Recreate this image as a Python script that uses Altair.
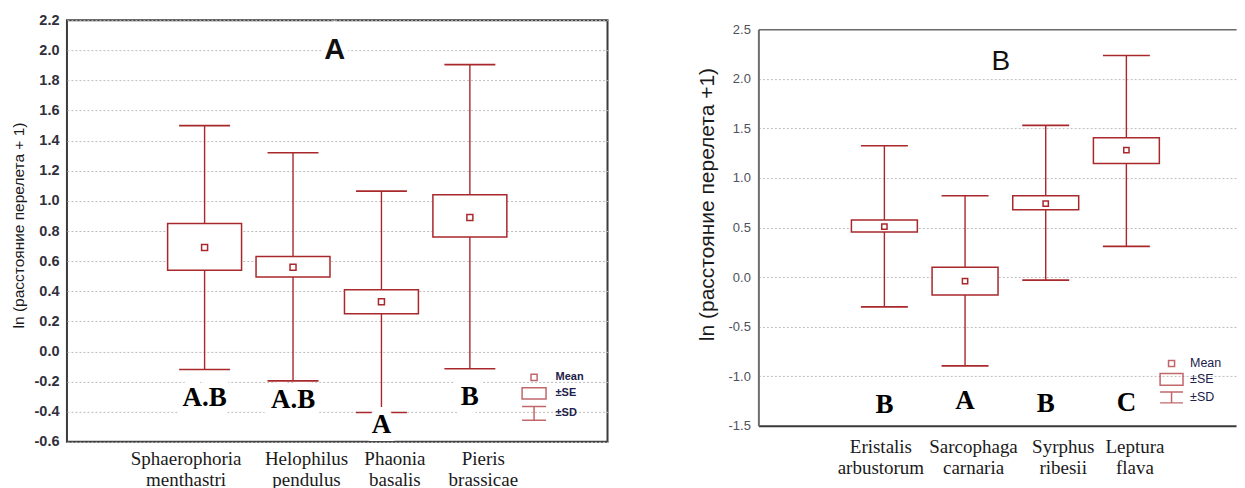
import altair as alt
import pandas as pd

RED = "#a8282c"

# ---------------- Panel A (left) ----------------
a_names = [["Sphaerophoria", "menthastri"], ["Helophilus", "pendulus"],
           ["Phaonia", "basalis"], ["Pieris", "brassicae"]]
a_pos = [2, 3, 4, 5]
a_mean = [0.69, 0.56, 0.33, 0.89]
a_se_lo = [0.54, 0.495, 0.25, 0.76]
a_se_hi = [0.85, 0.63, 0.41, 1.04]
a_sd_lo = [-0.12, -0.195, -0.405, -0.115]
a_sd_hi = [1.50, 1.32, 1.065, 1.905]
a_letters = ["A.B", "A.B", "A", "B"]
a_letter_y = [-0.31, -0.32, -0.49, -0.30]
a_yticks = [-0.6, -0.4, -0.2, 0.0, 0.2, 0.4, 0.6, 0.8, 1.0, 1.2, 1.4, 1.6, 1.8, 2.0, 2.2]
a_tag = ["A"]
a_tag_x = [3.47]
a_tag_y = [2.0]

# ---------------- Panel B (right) ----------------
b_names = [["Eristalis", "arbustorum"], ["Sarcophaga", "carnaria"],
           ["Syrphus", "ribesii"], ["Leptura", "flava"]]
b_pos = [2, 3, 4, 5]
b_mean = [0.51, -0.04, 0.74, 1.28]
b_se_lo = [0.455, -0.18, 0.68, 1.145]
b_se_hi = [0.575, 0.10, 0.82, 1.405]
b_sd_lo = [-0.30, -0.895, -0.03, 0.31]
b_sd_hi = [1.325, 0.82, 1.53, 2.235]
b_letters = ["B", "A", "B", "C"]
b_letter_y = [-1.29, -1.25, -1.28, -1.27]
b_yticks = [-1.5, -1.0, -0.5, 0.0, 0.5, 1.0, 1.5, 2.0, 2.5]
b_tag = ["B"]
b_tag_x = [3.445]
b_tag_y = [2.17]

x_ticks = [1, 2, 3, 4, 5, 6]
legend_items = ["Mean", "±SE", "±SD"]


def label_expr(pos, names):
    parts = [f"datum.value == {p} ? ['{a}', '{b}']" for p, (a, b) in zip(pos, names)]
    return " : ".join(parts) + " : ''"


def legend_paths(box_w, box_h, sd_w, sd_h, m):
    return [
        f"M{-m},{-m}H{m}V{m}H{-m}Z",
        f"M{-box_w},{-box_h}H{box_w}V{box_h}H{-box_w}Z",
        f"M{-sd_w},{-sd_h}H{sd_w}M0,{-sd_h}V{sd_h}M{-sd_w},{sd_h}H{sd_w}",
    ]


def panel(pos, names, mean, se_lo, se_hi, sd_lo, sd_hi, letters, letter_y,
          tag, tag_x, tag_y, yticks, ydom, xmax, width, height, st):
    df = pd.DataFrame({"pos": pos, "mean": mean, "se_lo": se_lo, "se_hi": se_hi,
                       "sd_lo": sd_lo, "sd_hi": sd_hi, "letter": letters, "ly": letter_y})
    tag_df = pd.DataFrame({"pos": tag_x, "ty": tag_y, "tag": tag})
    leg_df = pd.DataFrame({"item": legend_items, "pos": [100] * 3, "val": [0.0] * 3})

    xscale = alt.Scale(domain=[0.5, xmax], nice=False, zero=False)
    yscale = alt.Scale(domain=ydom, nice=False, zero=False)
    xaxis = alt.Axis(values=x_ticks, labelExpr=label_expr(pos, names), title=None,
                     grid=False, ticks=False, domain=st["xdomain"],
                     domainColor="#3a3a3a", domainWidth=2,
                     labelFont="Liberation Serif", labelFontSize=19, labelLineHeight=21,
                     labelColor="#1a1a1a", labelPadding=st["xpad"], labelOverlap=False,
                     labelFlush=False, labelBound=False, labelOffset=st["xoff"])
    yaxis = alt.Axis(values=yticks, title=st["ytitle"],
                     labelExpr="replace(format(datum.value, '.1f'), '\u2212', '-')",
                     grid=True, gridColor="#bcbcbc", gridDash=[2, 2], gridWidth=1,
                     ticks=False, domain=st["ydomain"], domainColor="#6e6e6e", domainWidth=2,
                     labelFont="Liberation Sans", labelFontSize=st["ylabsize"],
                     labelFontWeight=st["ylabweight"], labelColor=st["ylabcolor"],
                     labelPadding=st["ylabpad"], minExtent=st["ext"], maxExtent=st["ext"],
                     titleFont="Liberation Sans", titleFontSize=st["ytitlesize"],
                     titleFontWeight="normal", titleColor="#1a1a1a",
                     titlePadding=st["ytitlepad"], titleY=st["titley"])
    X = alt.X("pos:Q", scale=xscale, axis=xaxis)

    def Y(field):
        return alt.Y(f"{field}:Q", scale=yscale, axis=yaxis)

    base = alt.Chart(df)
    whisk = base.mark_rule(color=RED, strokeWidth=1.4).encode(x=X, y=Y("sd_lo"), y2="sd_hi")
    box = base.mark_bar(size=st["box_w"], fill="white", stroke=RED, strokeWidth=1.5,
                        orient="vertical").encode(x=X, y=Y("se_lo"), y2="se_hi")
    mean_pt = base.mark_point(shape="square", size=st["mean_size"], filled=False,
                              color=RED, strokeWidth=1.5, opacity=1).encode(x=X, y=Y("mean"))
    cap_lo = base.mark_tick(orient="horizontal", size=st["cap_w"], thickness=1.6,
                            color=RED, opacity=1).encode(x=X, y=Y("sd_lo"))
    cap_hi = base.mark_tick(orient="horizontal", size=st["cap_w"], thickness=1.6,
                            color=RED, opacity=1).encode(x=X, y=Y("sd_hi"))
    let_kw = dict(font="Liberation Serif", fontWeight="bold", fontSize=27,
                  align="center", baseline="middle")
    halo = base.mark_text(color="white", stroke="white", strokeWidth=16,
                          strokeJoin="round", **let_kw).encode(
        x=X, y=Y("ly"), text="letter:N")
    lets = base.mark_text(color="black", **let_kw).encode(x=X, y=Y("ly"), text="letter:N")

    tbase = alt.Chart(tag_df)
    tag_kw = dict(font="Liberation Sans", fontWeight=st["tagweight"], fontSize=st["tagsize"],
                  align="center", baseline="middle")
    tag_halo = tbase.mark_text(color="white", stroke="white", strokeWidth=12, **tag_kw).encode(
        x=X, y=Y("ty"), text="tag:N")
    tag_txt = tbase.mark_text(color="#111111", **tag_kw).encode(x=X, y=Y("ty"), text="tag:N")

    leg_x = alt.X("pos:Q", scale=xscale, axis=xaxis)
    if st["top_axis"]:
        leg_x = alt.X("pos:Q", scale=xscale,
                      axis=alt.Axis(orient="top", labels=False, ticks=False, grid=False,
                                    title=None, domain=True, domainColor="#6a6a6a",
                                    domainWidth=1.5))
    legend_layer = alt.Chart(leg_df).mark_point(filled=False, color=RED, strokeWidth=1.5,
                                                clip=True).encode(
        x=leg_x, y=Y("val"),
        shape=alt.Shape("item:N",
                        scale=alt.Scale(domain=legend_items, range=st["paths"]),
                        legend=alt.Legend(title=None, orient="none",
                                          legendX=st["legx"], legendY=st["legy"],
                                          symbolSize=st["symsize"], symbolStrokeWidth=1.5,
                                          symbolStrokeColor=RED,
                                          labelFont="Liberation Sans",
                                          labelFontSize=st["legfs"],
                                          labelFontWeight=st["legweight"],
                                          labelColor="#20204a", labelOffset=st["legoff"],
                                          rowPadding=0, padding=0)))

    main = alt.layer(whisk, box, mean_pt, cap_lo, cap_hi, halo, lets, tag_halo, tag_txt)
    if st["top_axis"]:
        ch = alt.layer(main, legend_layer).resolve_axis(x="independent")
    else:
        ch = alt.layer(main, legend_layer)
    return ch.properties(width=width, height=height, view=st["view"])


left = panel(a_pos, a_names, a_mean, a_se_lo, a_se_hi, a_sd_lo, a_sd_hi, a_letters,
             a_letter_y, a_tag, a_tag_x, a_tag_y, a_yticks, [-0.6, 2.2], 6.5, 541, 422,
             dict(xdomain=False, ydomain=False, xpad=8,
                  xoff={"condition": [{"test": "datum.value == 2", "value": -19}], "value": 13},
                  ytitle="ln (расстояние перелета + 1)", ylabsize=14.5, ylabweight="bold",
                  ylabcolor="#30303c", ylabpad=8, ext=36, ytitlesize=15.5, ytitlepad=4,
                  titley=205,
                  box_w=74, cap_w=51, mean_size=36, tagweight="bold", tagsize=29,
                  top_axis=False, paths=legend_paths(1.41, 0.65, 1.41, 0.82, 0.36),
                  legx=458, legy=348, symsize=289, legfs=11, legweight="bold", legoff=12,
                  view=alt.ViewBackground(stroke="#3c3c3c", strokeWidth=2)))

right = panel(b_pos, b_names, b_mean, b_se_lo, b_se_hi, b_sd_lo, b_sd_hi, b_letters,
              b_letter_y, b_tag, b_tag_x, b_tag_y, b_yticks, [-1.5, 2.5], 6.297, 478, 397,
              dict(xdomain=True, ydomain=True, xpad=12,
                   xoff={"condition": [{"test": "datum.value == 2", "value": -4},
                                       {"test": "datum.value == 4", "value": 17}],
                         "value": 8},
                   ytitle="ln (расстояние перелета +1)", ylabsize=13, ylabweight="normal",
                   ylabcolor="#50505a", ylabpad=8, ext=30, ytitlesize=21, ytitlepad=11,
                   titley=175,
                   box_w=66, cap_w=47, mean_size=28, tagweight="normal", tagsize=28,
                   top_axis=True, paths=legend_paths(1.48, 0.77, 1.48, 0.71, 0.39),
                   legx=405, legy=335, symsize=240, legfs=12.5, legweight="normal", legoff=10,
                   view=alt.ViewBackground(stroke="transparent")))

# thin invisible spacer that sets the right panel a little lower than the left one
spacer = alt.Chart(pd.DataFrame({"v": [0]})).mark_point(opacity=0).properties(
    width=1, height=9, view=alt.ViewBackground(stroke="transparent"))
right_col = alt.vconcat(spacer, right, spacing=0, bounds="flush")

chart = alt.hconcat(left, right_col, spacing=151, bounds="flush").resolve_scale(
    x="independent", y="independent", shape="independent").resolve_legend(
    shape="independent").properties(
    padding={"left": 3, "top": 3, "right": 0, "bottom": 0},
    background="white")

chart.save("out.html", embed_options={"renderer": "svg", "actions": False})
